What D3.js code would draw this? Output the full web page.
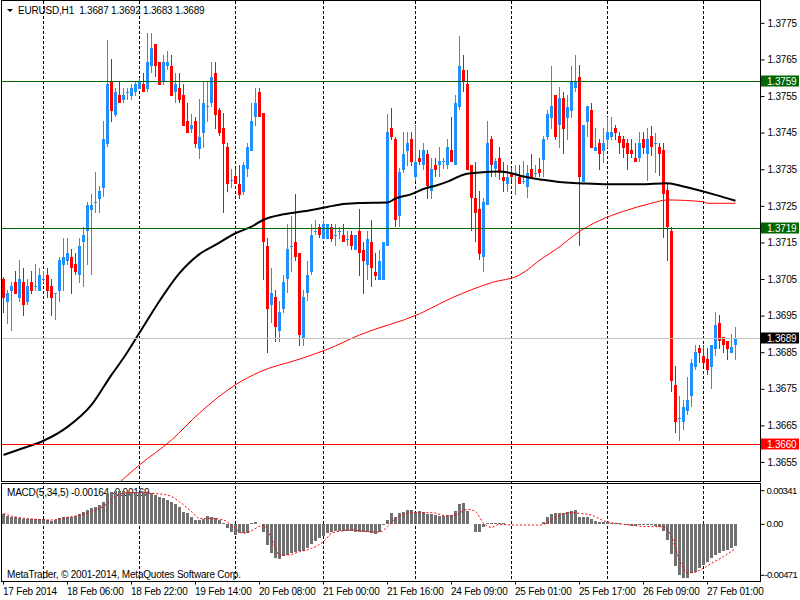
<!DOCTYPE html>
<html>
<head>
<meta charset="utf-8">
<script src="https://cdn.jsdelivr.net/npm/d3@7"></script>
<style>
  body { margin: 0; background: #fff; }
  svg { display: block; font-family: Tahoma, "Liberation Sans", Arial, sans-serif; font-size: 10px; letter-spacing: -0.2px; }
</style>
</head>
<body>
<div id="chart"></div>
<script>
// time axis labels and the bars they sit on
const timeLabels = ['17 Feb 2014', '18 Feb 06:00', '18 Feb 22:00', '19 Feb 14:00', '20 Feb 08:00', '21 Feb 00:00',
  '21 Feb 16:00', '24 Feb 09:00', '25 Feb 01:00', '25 Feb 17:00', '26 Feb 09:00', '27 Feb 01:00'];
const timeLabelBars = [0, 16, 32, 48, 64, 80, 96, 112, 128, 144, 160, 176];
const gridBars = [10, 34, 58, 80, 103, 127, 151, 175];

const priceTicks = [1.3775, 1.3765, 1.3755, 1.3745, 1.3735, 1.3725, 1.3715, 1.3705, 1.3695, 1.3685, 1.3675, 1.3665, 1.3655];
const macdTicks = [0.00341, 0, -0.00471];
const macdTickLabels = ['0.00341', '0.00', '-0.00471'];

// EURUSD H1 candles
const open = [
  1.37050,1.36988,1.37018,1.37041,1.36999,1.37041,1.36988,1.37041,1.37029,1.37018,
  1.37048,1.37061,1.37031,1.37009,1.37018,1.37089,1.37100,1.37110,1.37091,1.37061,
  1.37150,1.37180,1.37239,1.37258,1.37270,1.37300,1.37420,1.37590,1.37499,1.37553,
  1.37540,1.37558,1.37551,1.37561,1.37570,1.37583,1.37570,1.37631,1.37693,1.37643,
  1.37590,1.37631,1.37633,1.37561,1.37572,1.37553,1.37482,1.37460,1.37482,1.37406,
  1.37450,1.37520,1.37530,1.37613,1.37512,1.37464,1.37412,1.37320,1.37332,1.37311,
  1.37289,1.37350,1.37401,1.37492,1.37561,1.37503,1.37141,1.36980,1.37001,1.36909,
  1.36969,1.37050,1.37139,1.37151,1.37121,1.36890,1.37011,1.37070,1.37180,1.37191,
  1.37160,1.37160,1.37191,1.37170,1.37180,1.37171,1.37159,1.37171,1.37130,1.37181,
  1.37130,1.37089,1.37150,1.37070,1.37048,1.37048,1.37139,1.37462,1.37432,1.37221,
  1.37349,1.37401,1.37432,1.37330,1.37380,1.37361,1.37392,1.37290,1.37362,1.37362,
  1.37372,1.37362,1.37403,1.37362,1.37521,1.37622,1.37583,1.37362,1.37271,1.37241,
  1.37109,1.37251,1.37433,1.37350,1.37382,1.37330,1.37310,1.37339,1.37340,1.37330,
  1.37318,1.37301,1.37350,1.37340,1.37350,1.37376,1.37439,1.37491,1.37553,1.37471,
  1.37544,1.37491,1.37510,1.37572,1.37603,1.37316,1.37480,1.37512,1.37401,1.37421,
  1.37401,1.37430,1.37439,1.37462,1.37441,1.37432,1.37421,1.37403,1.37380,1.37380,
  1.37432,1.37391,1.37441,1.37419,1.37410,1.37403,1.37292,1.37182,1.36761,1.36668,
  1.36658,1.36688,1.36729,1.36809,1.36861,1.36840,1.36831,1.36809,1.36860,1.36931,
  1.36891,1.36880,1.36849,1.36870];
const high = [
  1.37055,1.37020,1.37041,1.37072,1.37102,1.37081,1.37050,1.37072,1.37091,1.37081,
  1.37072,1.37081,1.37050,1.37011,1.37111,1.37162,1.37162,1.37132,1.37121,1.37162,
  1.37192,1.37260,1.37283,1.37342,1.37303,1.37482,1.37704,1.37652,1.37572,1.37590,
  1.37572,1.37572,1.37583,1.37590,1.37600,1.37613,1.37722,1.37722,1.37693,1.37643,
  1.37663,1.37674,1.37663,1.37613,1.37613,1.37583,1.37532,1.37501,1.37492,1.37542,
  1.37590,1.37590,1.37643,1.37643,1.37518,1.37503,1.37423,1.37350,1.37350,1.37362,
  1.37371,1.37423,1.37531,1.37573,1.37573,1.37503,1.37162,1.37080,1.37020,1.36991,
  1.37062,1.37201,1.37221,1.37283,1.37121,1.37020,1.37100,1.37201,1.37212,1.37201,
  1.37212,1.37201,1.37201,1.37201,1.37191,1.37201,1.37181,1.37181,1.37171,1.37242,
  1.37150,1.37181,1.37212,1.37120,1.37130,1.37150,1.37501,1.37518,1.37439,1.37353,
  1.37451,1.37451,1.37451,1.37471,1.37402,1.37421,1.37402,1.37380,1.37382,1.37412,
  1.37382,1.37433,1.37492,1.37553,1.37713,1.37663,1.37622,1.37362,1.37371,1.37291,
  1.37271,1.37482,1.37441,1.37382,1.37412,1.37371,1.37362,1.37354,1.37362,1.37362,
  1.37373,1.37362,1.37391,1.37362,1.37382,1.37442,1.37512,1.37633,1.37553,1.37576,
  1.37562,1.37553,1.37633,1.37663,1.37635,1.37471,1.37523,1.37532,1.37462,1.37432,
  1.37462,1.37494,1.37494,1.37471,1.37453,1.37441,1.37432,1.37432,1.37421,1.37453,
  1.37453,1.37462,1.37469,1.37450,1.37421,1.37421,1.37312,1.37193,1.36811,1.36731,
  1.36720,1.36781,1.36831,1.36871,1.36871,1.36871,1.36861,1.36870,1.36960,1.36951,
  1.36891,1.36880,1.36900,1.36920];
const low = [
  1.36958,1.36927,1.36909,1.37009,1.36988,1.36950,1.36979,1.37009,1.37018,1.37018,
  1.37040,1.36999,1.36950,1.36938,1.36988,1.37018,1.37089,1.37009,1.37061,1.37040,
  1.37029,1.37089,1.37061,1.37230,1.37230,1.37275,1.37410,1.37480,1.37492,1.37530,
  1.37530,1.37540,1.37540,1.37551,1.37570,1.37561,1.37561,1.37613,1.37602,1.37581,
  1.37581,1.37621,1.37551,1.37530,1.37530,1.37469,1.37450,1.37450,1.37409,1.37379,
  1.37409,1.37480,1.37520,1.37460,1.37441,1.37230,1.37289,1.37300,1.37311,1.37269,
  1.37280,1.37330,1.37401,1.37469,1.37492,1.37048,1.36849,1.36929,1.36879,1.36879,
  1.36958,1.37011,1.37070,1.37100,1.36868,1.36868,1.36991,1.37062,1.37171,1.37162,
  1.37160,1.37160,1.37150,1.37139,1.37160,1.37150,1.37139,1.37130,1.37130,1.37059,
  1.37009,1.37048,1.37029,1.37048,1.37048,1.37048,1.37139,1.37430,1.37193,1.37193,
  1.37341,1.37359,1.37359,1.37319,1.37361,1.37348,1.37270,1.37270,1.37330,1.37330,
  1.37350,1.37350,1.37371,1.37362,1.37512,1.37562,1.37348,1.37180,1.37150,1.37102,
  1.37070,1.37251,1.37330,1.37330,1.37321,1.37289,1.37289,1.37318,1.37280,1.37310,
  1.37310,1.37271,1.37330,1.37330,1.37330,1.37330,1.37430,1.37460,1.37430,1.37409,
  1.37391,1.37430,1.37491,1.37562,1.37139,1.37316,1.37439,1.37409,1.37401,1.37348,
  1.37367,1.37408,1.37430,1.37430,1.37391,1.37382,1.37348,1.37380,1.37371,1.37371,
  1.37391,1.37319,1.37385,1.37341,1.37332,1.37162,1.37100,1.36740,1.36629,1.36608,
  1.36638,1.36679,1.36700,1.36800,1.36820,1.36811,1.36788,1.36749,1.36840,1.36860,
  1.36849,1.36829,1.36849,1.36830];
const close = [
  1.36999,1.37011,1.37031,1.37009,1.37050,1.36979,1.37031,1.37018,1.37031,1.37061,
  1.37050,1.37018,1.36999,1.37011,1.37102,1.37110,1.37121,1.37079,1.37070,1.37141,
  1.37171,1.37253,1.37253,1.37260,1.37291,1.37433,1.37583,1.37510,1.37561,1.37530,
  1.37553,1.37561,1.37572,1.37583,1.37590,1.37561,1.37643,1.37682,1.37631,1.37581,
  1.37643,1.37643,1.37551,1.37583,1.37540,1.37469,1.37450,1.37471,1.37420,1.37438,
  1.37531,1.37522,1.37602,1.37499,1.37450,1.37419,1.37311,1.37321,1.37311,1.37280,
  1.37362,1.37412,1.37482,1.37532,1.37492,1.37150,1.36969,1.37011,1.36920,1.36960,
  1.37042,1.37132,1.37141,1.37110,1.36897,1.37001,1.37062,1.37171,1.37182,1.37171,
  1.37200,1.37201,1.37160,1.37171,1.37181,1.37150,1.37160,1.37139,1.37171,1.37120,
  1.37100,1.37160,1.37080,1.37059,1.37100,1.37150,1.37451,1.37439,1.37210,1.37343,
  1.37392,1.37421,1.37371,1.37371,1.37371,1.37402,1.37303,1.37350,1.37348,1.37373,
  1.37373,1.37412,1.37371,1.37532,1.37633,1.37590,1.37348,1.37271,1.37230,1.37119,
  1.37260,1.37421,1.37362,1.37373,1.37339,1.37319,1.37330,1.37330,1.37341,1.37310,
  1.37319,1.37341,1.37330,1.37341,1.37339,1.37433,1.37500,1.37523,1.37439,1.37544,
  1.37460,1.37521,1.37588,1.37590,1.37330,1.37471,1.37523,1.37409,1.37412,1.37391,
  1.37421,1.37453,1.37453,1.37450,1.37421,1.37409,1.37391,1.37391,1.37371,1.37421,
  1.37409,1.37432,1.37410,1.37421,1.37391,1.37281,1.37193,1.36770,1.36658,1.36670,
  1.36700,1.36720,1.36820,1.36851,1.36849,1.36820,1.36800,1.36870,1.36924,1.36880,
  1.36870,1.36860,1.36863,1.36890];

// moving averages at these bars
const maBlackBars = [0,5,10,16,22,27,30,34,39,44,49,53,58,62,65,70,75,81,85,89,
  96,98,102,105,108,111,115,119,124,127,130,135,139,144,151,159,166,170,175,178,183];
const maBlack = [1.36569,1.36588,1.36608,1.36646,1.36706,1.36788,1.36834,1.36903,1.36990,1.37066,
  1.37118,1.37143,1.37175,1.37193,1.37212,1.37227,1.37235,1.37247,1.37255,1.37258,
  1.37259,1.37270,1.37282,1.37296,1.37305,1.37316,1.37335,1.37341,1.37344,1.37339,
  1.37330,1.37321,1.37315,1.37312,1.37309,1.37309,1.37312,1.37303,1.37289,1.37280,1.37264];
const maRedBars = [27,34,42,49,58,64,74,81,89,104,112,122,129,135,138,144,149,155,162,166,175,176,183];
const maRed = [1.36474,1.36542,1.36610,1.36684,1.36761,1.36796,1.36831,1.36858,1.36897,1.36955,
  1.36998,1.37040,1.37061,1.37109,1.37130,1.37180,1.37210,1.37235,1.37257,1.37266,1.37261,1.37257,1.37257];

// MACD(5,34,5)
const macdHist = [
  0.00087,0.00073,0.00067,0.00061,0.00052,0.00044,0.00044,0.00044,0.00044,0.00047,
  0.00047,0.00038,0.00029,0.00038,0.00052,0.00067,0.00067,0.00067,0.00076,0.00087,
  0.00108,0.00125,0.00140,0.00154,0.00169,0.00198,0.00271,0.00285,0.00294,0.00294,
  0.00294,0.00285,0.00279,0.00279,0.00279,0.00279,0.00271,0.00271,0.00256,0.00242,
  0.00227,0.00212,0.00198,0.00178,0.00154,0.00111,0.00096,0.00061,0.00038,0.00038,
  0.00044,0.00073,0.00067,0.00058,0.00038,0.00015,-0.00035,-0.00064,-0.00093,-0.00073,
  -0.00079,-0.00073,0.00009,0.00020,0.00000,-0.00064,-0.00180,-0.00253,-0.00291,-0.00306,
  -0.00276,-0.00268,-0.00253,-0.00239,-0.00230,-0.00230,-0.00210,-0.00175,-0.00146,-0.00122,
  -0.00102,-0.00073,-0.00064,-0.00055,-0.00055,-0.00055,-0.00055,-0.00058,-0.00064,-0.00064,
  -0.00070,-0.00070,-0.00079,-0.00084,-0.00070,-0.00006,0.00038,0.00096,0.00067,0.00096,
  0.00111,0.00125,0.00125,0.00111,0.00119,0.00105,0.00090,0.00087,0.00079,0.00076,
  0.00076,0.00081,0.00079,0.00116,0.00178,0.00183,0.00116,0.00006,-0.00064,-0.00064,
  -0.00023,0.00012,0.00015,0.00015,0.00009,0.00009,0.00003,0.00002,0.00001,0.00000,
  0.00001,0.00002,0.00003,0.00002,0.00004,0.00023,0.00061,0.00087,0.00096,0.00102,
  0.00102,0.00111,0.00116,0.00125,0.00067,0.00067,0.00067,0.00044,0.00032,0.00023,
  0.00017,0.00017,0.00015,0.00012,0.00009,0.00003,-0.00006,-0.00015,-0.00015,-0.00009,
  -0.00009,-0.00009,-0.00009,-0.00015,-0.00020,-0.00055,-0.00137,-0.00259,-0.00364,-0.00442,
  -0.00466,-0.00466,-0.00428,-0.00413,-0.00384,-0.00355,-0.00326,-0.00297,-0.00268,-0.00247,
  -0.00233,-0.00224,-0.00210,-0.00189];
const signalBars = [0,2,8,12,16,19,22,26,28,31,34,37,41,44,47,49,52,55,57,60,
  62,65,67,69,71,74,77,80,82,85,87,91,94,96,98,99,103,107,111,113,
  116,118,120,122,124,128,134,136,138,142,144,147,150,153,157,161,165,167,169,171,
  172,175,177,180,183];
const signalVals = [0.00096,0.00073,0.00044,0.00038,0.00061,0.00081,0.00111,0.00183,0.00247,0.00276,
  0.00276,0.00271,0.00256,0.00198,0.00111,0.00052,0.00052,0.00038,-0.00006,-0.00079,
  -0.00055,-0.00006,-0.00122,-0.00268,-0.00268,-0.00239,-0.00210,-0.00151,-0.00079,-0.00055,
  -0.00049,-0.00064,-0.00067,-0.00020,0.00052,0.00073,0.00102,0.00102,0.00073,0.00081,
  0.00131,0.00111,0.00009,-0.00026,0.00000,-0.00006,-0.00006,0.00015,0.00061,0.00102,
  0.00096,0.00081,0.00032,0.00009,-0.00006,-0.00020,-0.00020,-0.00108,-0.00311,-0.00422,
  -0.00422,-0.00384,-0.00340,-0.00282,-0.00210];

// horizontal price levels
const levels = [1.3759, 1.3719, 1.3689, 1.3660];

const W = 800, H = 600;
const axisX = 760.5;
const colBull = '#1e90ff', colBear = '#ff0000';
const levelLine = ['#006400', '#006400', '#c0c0c0', '#ff0000'];
const levelBox = ['#006400', '#006400', '#000000', '#ff0000'];

const svg = d3.select('#chart').append('svg')
  .attr('width', W)
  .attr('height', H);

// Set up scales
const x = d3.scaleBand()
  .domain(d3.range(close.length))
  .range([1.5, 737.5]);
const cx = i => x(i) + x.bandwidth() / 2;

const y = d3.scaleLinear()
  .domain([1.36498, 1.37807])
  .range([481, 2]);

const ym = d3.scaleLinear()
  .domain([-0.00471, 0.00341])
  .range([578.3, 485.3]);

// clip areas
svg.append('clipPath').attr('id', 'main-area')
  .append('rect').attr('x', 2).attr('y', 1).attr('width', 758).attr('height', 480);
svg.append('clipPath').attr('id', 'sub-area')
  .append('rect').attr('x', 2).attr('y', 484).attr('width', 758).attr('height', 97);

// vertical dashed grid
svg.append('g')
  .selectAll('line')
  .data(gridBars)
  .enter()
  .append('line')
  .attr('x1', d => cx(d)).attr('x2', d => cx(d))
  .attr('y1', 1).attr('y2', 581)
  .attr('stroke', '#000')
  .attr('stroke-dasharray', '3,2')
  .attr('shape-rendering', 'crispEdges');

const mainG = svg.append('g').attr('clip-path', 'url(#main-area)');

// candles
const candles = mainG.selectAll('.candle')
  .data(d3.range(close.length))
  .enter()
  .append('g')
  .attr('class', 'candle')
  .attr('shape-rendering', 'crispEdges');

candles.append('line')
  .attr('x1', i => cx(i)).attr('x2', i => cx(i))
  .attr('y1', i => y(high[i])).attr('y2', i => y(low[i]))
  .attr('stroke', i => close[i] < open[i] ? colBear : colBull);

candles.append('rect')
  .attr('x', i => cx(i) - 1.5)
  .attr('width', 3)
  .attr('y', i => y(Math.max(open[i], close[i])))
  .attr('height', i => Math.max(1, Math.abs(y(open[i]) - y(close[i]))))
  .attr('fill', i => close[i] < open[i] ? colBear : colBull);

// moving averages
const maLine = d3.line()
  .x(d => cx(d[0]))
  .y(d => y(d[1]))
  .curve(d3.curveMonotoneX);
mainG.append('path')
  .datum(d3.zip(maRedBars, maRed))
  .attr('d', maLine)
  .attr('fill', 'none')
  .attr('stroke', '#ff0000')
  .attr('stroke-width', 1);
mainG.append('path')
  .datum(d3.zip(maBlackBars, maBlack))
  .attr('d', maLine)
  .attr('fill', 'none')
  .attr('stroke', '#000')
  .attr('stroke-width', 2);

// level lines
mainG.selectAll('.level')
  .data(levels)
  .enter()
  .append('line')
  .attr('class', 'level')
  .attr('x1', 2).attr('x2', 760)
  .attr('y1', d => Math.round(y(d)) + 0.5).attr('y2', d => Math.round(y(d)) + 0.5)
  .attr('stroke', (d, k) => levelLine[k]);

// MACD panel
const subG = svg.append('g').attr('clip-path', 'url(#sub-area)');

subG.append('text')
  .attr('x', 7).attr('y', 496)
  .attr('fill', '#000')
  .text('MACD(5,34,5) -0.00164 -0.00169');

subG.selectAll('.hist')
  .data(macdHist)
  .enter()
  .append('rect')
  .attr('class', 'hist')
  .attr('x', (d, i) => cx(i) - 1.5)
  .attr('width', 3)
  .attr('y', d => Math.min(ym(d), ym(0)))
  .attr('height', d => Math.abs(ym(d) - ym(0)))
  .attr('fill', '#707070')
  .attr('shape-rendering', 'crispEdges');

subG.append('path')
  .datum(d3.zip(signalBars, signalVals))
  .attr('d', d3.line().x(d => cx(d[0])).y(d => ym(d[1])).curve(d3.curveMonotoneX))
  .attr('fill', 'none')
  .attr('stroke', '#ff0000')
  .attr('stroke-dasharray', '2,2');

subG.append('text')
  .attr('x', 7).attr('y', 578)
  .attr('fill', '#000')
  .text('MetaTrader, \u00a9 2001-2014, MetaQuotes Software Corp.');

// frames
svg.append('rect')
  .attr('x', 1.5).attr('y', 0.5).attr('width', 759).attr('height', 481)
  .attr('fill', 'none').attr('stroke', '#000');
svg.append('rect')
  .attr('x', 1.5).attr('y', 483.5).attr('width', 759).attr('height', 98)
  .attr('fill', 'none').attr('stroke', '#000');

// price axis
const yAxis = d3.axisRight(y)
  .tickValues(priceTicks)
  .tickSize(4)
  .tickPadding(3)
  .tickFormat(d3.format('.4f'));

svg.append('g')
  .attr('class', 'y-axis')
  .attr('transform', `translate(${axisX}, 0)`)
  .call(yAxis);

// MACD axis
const mAxis = d3.axisRight(ym)
  .tickValues(macdTicks)
  .tickSize(4)
  .tickPadding(3)
  .tickFormat((d, k) => macdTickLabels[k]);

const mAxisG = svg.append('g')
  .attr('class', 'm-axis')
  .attr('transform', `translate(${axisX}, 0)`)
  .call(mAxis);

// end labels sit a little inside the panel, as in the terminal
mAxisG.selectAll('.tick')
  .attr('transform', d => `translate(0,${ym(d) + (d > 0 ? 5.4 : d < 0 ? -3 : 0)})`);

// time axis
const xAxis = d3.axisBottom(x)
  .tickValues(timeLabelBars)
  .tickSize(3)
  .tickFormat((d, k) => timeLabels[k]);

svg.append('g')
  .attr('class', 'x-axis')
  .attr('transform', 'translate(0, 581.5)')
  .call(xAxis);

svg.selectAll('.x-axis text')
  .attr('text-anchor', 'start')
  .attr('x', -0.5)
  .attr('y', 13)
  .attr('dy', 0);

svg.selectAll('.y-axis .domain, .m-axis .domain, .x-axis .domain')
  .remove();

svg.selectAll('.tick text')
  .attr('fill', '#000')
  .style('font-family', 'Tahoma, "Liberation Sans", Arial, sans-serif')
  .style('font-size', '10px');

mAxisG.selectAll('.tick text')
  .attr('x', d => d < 0 ? 4 : 6)
  .style('font-size', '9.5px')
  .style('letter-spacing', '-0.6px');

// level price tags
const tags = svg.selectAll('.tag')
  .data(levels)
  .enter()
  .append('g')
  .attr('class', 'tag')
  .attr('transform', d => `translate(761, ${Math.round(y(d)) + 0.5})`);

tags.append('rect')
  .attr('x', 0).attr('y', -6)
  .attr('width', 38).attr('height', 11)
  .attr('fill', (d, k) => levelBox[k]);

tags.append('text')
  .attr('x', 6).attr('y', 3.5)
  .attr('fill', '#fff')
  .text(d3.format('.4f'));

// title
svg.append('path')
  .attr('d', 'M7,9 L13,9 L10,12 Z')
  .attr('fill', '#000');
svg.append('text')
  .attr('x', 18).attr('y', 14)
  .attr('fill', '#000')
  .attr('xml:space', 'preserve')
  .style('white-space', 'pre')
  .text('EURUSD,H1  1.3687 1.3692 1.3683 1.3689');
</script>
</body>
</html>
